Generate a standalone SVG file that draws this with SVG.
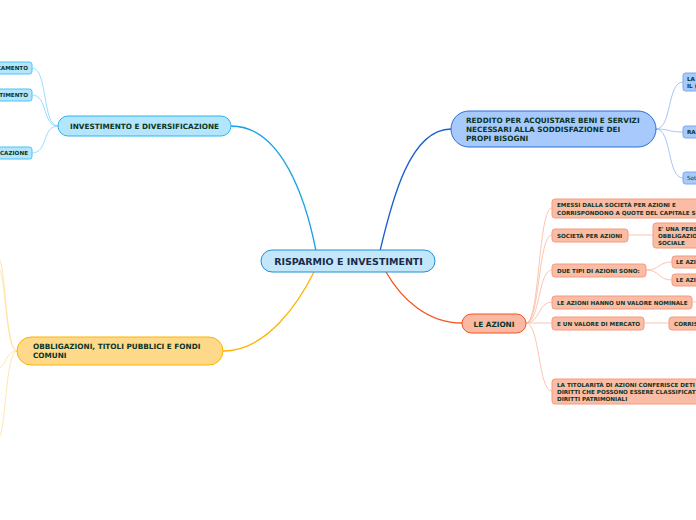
<svg xmlns="http://www.w3.org/2000/svg" width="696" height="520" viewBox="0 0 696 520">
<style>
text{font-family:"DejaVu Sans","Verdana",sans-serif;font-weight:bold;fill:#0b3526}
.sm{font-size:5.65px}
.md{font-size:7.3px}
.bl{fill:#b3e5fc;stroke:#4fc3f7;stroke-width:1}
.rb{fill:#a9c9fb;stroke:#7aa7f0;stroke-width:1}
.az{fill:#fbbca6;stroke:#f49a7e;stroke-width:1}
</style>
<rect width="696" height="520" fill="#ffffff"/>
<g id="connectors" fill="none">
  <path d="M316,251 C306,200 282,126 231,126" stroke="#19a2e6" stroke-width="1.3"/>
  <path d="M380,251 C392,200 410,129 451,129" stroke="#1a5fd0" stroke-width="1.3"/>
  <path d="M386,272 C402,300 428,323 462,323" stroke="#f4511e" stroke-width="1.3"/>
  <path d="M314,272 C300,300 268,351 223,351" stroke="#ffb300" stroke-width="1.3"/>
  <g stroke="#81d4fa" stroke-width="0.8">
    <path d="M58,126 C42,126 48,68 32,68"/>
    <path d="M58,126 C42,126 48,95 32,95"/>
    <path d="M58,126 C42,126 48,153 32,153"/>
  </g>
  <g stroke="#8fb6f5" stroke-width="0.8">
    <path d="M656,129 C672,129 667,82 683,82"/>
    <path d="M656,129 C670,129 668,132 683,132"/>
    <path d="M656,129 C672,129 667,178 683,178"/>
  </g>
  <g stroke="#f9b6a0" stroke-width="0.8">
    <path d="M526,323 C540,323 538,208 552,208"/>
    <path d="M526,323 C540,323 538,235 552,235"/>
    <path d="M526,323 C540,323 538,270 552,270"/>
    <path d="M526,323 C540,323 538,302 552,302"/>
    <path d="M526,323 L552,323"/>
    <path d="M526,323 C540,323 538,391 552,391"/>
    <path d="M628,235 L653,235"/>
    <path d="M646,270 C660,270 658,262 672,262"/>
    <path d="M646,270 C660,270 658,280 672,280"/>
    <path d="M692,302 L696,302"/>
    <path d="M644,323 L669,323"/>
  </g>
  <g stroke="#ffe09a" stroke-width="0.8">
    <path d="M17,351 C5,351 6,258 -2,258"/>
    <path d="M17,351 C5,351 6,268 -2,268"/>
    <path d="M17,351 C5,351 6,368 -2,368"/>
    <path d="M17,351 C5,351 6,438 -2,438"/>
  </g>
</g>
<g id="center">
  <rect x="261" y="250" width="174" height="22" rx="11" fill="#c3e7fa" stroke="#1f8fd6" stroke-width="1"/>
  <text x="348.5" y="265" text-anchor="middle" font-size="9.5" style="fill:#1a2b4c">RISPARMIO E INVESTIMENTI</text>
</g>
<g id="investimento">
  <rect x="58" y="116" width="173" height="20" rx="10" fill="#b3e5fc" stroke="#29b6f6" stroke-width="1"/>
  <text x="144.5" y="129" text-anchor="middle" class="md">INVESTIMENTO E DIVERSIFICAZIONE</text>
</g>
<g id="inv-c1"><rect x="-10" y="62" width="42" height="12" rx="2.5" class="bl"/><text x="28" y="70" text-anchor="end" class="sm">CAMENTO</text></g>
<g id="inv-c2"><rect x="-10" y="89" width="42" height="12" rx="2.5" class="bl"/><text x="28" y="97" text-anchor="end" class="sm">TIMENTO</text></g>
<g id="inv-c3"><rect x="-10" y="147" width="42" height="12" rx="2.5" class="bl"/><text x="28" y="155" text-anchor="end" class="sm">CAZIONE</text></g>
<g id="reddito">
  <rect x="451" y="111" width="205" height="36" rx="18" fill="#a8c9fb" stroke="#2a6fd4" stroke-width="1"/>
  <text x="466" y="123" class="md">REDDITO PER ACQUISTARE BENI E SERVIZI</text>
  <text x="466" y="132" class="md">NECESSARI ALLA SODDISFAZIONE DEI</text>
  <text x="466" y="141" class="md">PROPI BISOGNI</text>
</g>
<g id="red-c1"><rect x="683" y="73" width="30" height="18" rx="2.5" class="rb"/><text x="687" y="81" class="sm">LA</text><text x="687" y="88" class="sm">IL (</text></g>
<g id="red-c2"><rect x="683" y="126" width="30" height="12" rx="2.5" class="rb"/><text x="687" y="134" class="sm">RA</text></g>
<g id="red-c3"><rect x="683" y="172" width="30" height="12" rx="2.5" class="rb"/><text x="687" y="180" class="sm" style="font-weight:normal">Sot</text></g>
<g id="azioni">
  <rect x="462" y="314" width="64" height="19" rx="9.5" fill="#f9b9a3" stroke="#f4511e" stroke-width="1"/>
  <text x="494" y="326.5" text-anchor="middle" class="md">LE AZIONI</text>
</g>
<g id="az-emessi"><rect x="552" y="199" width="160" height="19" rx="3" class="az"/><text x="557" y="207" class="sm">EMESSI DALLA SOCIETÀ PER AZIONI E</text><text x="557" y="214.5" class="sm">CORRISPONDONO A QUOTE DEL CAPITALE SO</text></g>
<g id="az-spa"><rect x="552" y="229" width="76" height="13" rx="3" class="az"/><text x="557" y="237.5" class="sm">SOCIETÀ PER AZIONI</text></g>
<g id="az-pers"><rect x="653" y="223" width="60" height="25" rx="3" class="az"/><text x="658" y="231" class="sm">E' UNA PERS</text><text x="658" y="238" class="sm">OBBLIGAZIO</text><text x="658" y="245" class="sm">SOCIALE</text></g>
<g id="az-tipi"><rect x="552" y="264" width="94" height="13" rx="3" class="az"/><text x="557" y="272.5" class="sm">DUE TIPI DI AZIONI SONO:</text></g>
<g id="az-t1"><rect x="672" y="256" width="40" height="12" rx="3" class="az"/><text x="676" y="264" class="sm">LE AZI</text></g>
<g id="az-t2"><rect x="672" y="274" width="40" height="12" rx="3" class="az"/><text x="676" y="282" class="sm">LE AZI</text></g>
<g id="az-nom"><rect x="552" y="296" width="140" height="13" rx="3" class="az"/><text x="557" y="304.5" class="sm">LE AZIONI HANNO UN VALORE NOMINALE</text></g>
<g id="az-merc"><rect x="552" y="317" width="92" height="13" rx="3" class="az"/><text x="557" y="325.5" class="sm">E UN VALORE DI MERCATO</text></g>
<g id="az-corr"><rect x="669" y="317" width="40" height="13" rx="3" class="az"/><text x="674" y="325.5" class="sm">CORRIS</text></g>
<g id="az-tit"><rect x="552" y="379" width="160" height="25" rx="3" class="az"/><text x="557" y="387" class="sm">LA TITOLARITÀ DI AZIONI CONFERISCE DETI</text><text x="557" y="394" class="sm">DIRITTI CHE POSSONO ESSERE CLASSIFICAT</text><text x="557" y="401" class="sm">DIRITTI PATRIMONIALI</text></g>
<g id="obbligazioni">
  <rect x="17" y="337" width="206" height="28" rx="14" fill="#fed98a" stroke="#ffb300" stroke-width="1"/>
  <text x="33" y="349" class="md">OBBLIGAZIONI, TITOLI PUBBLICI E FONDI</text>
  <text x="33" y="358" class="md">COMUNI</text>
</g>
</svg>
